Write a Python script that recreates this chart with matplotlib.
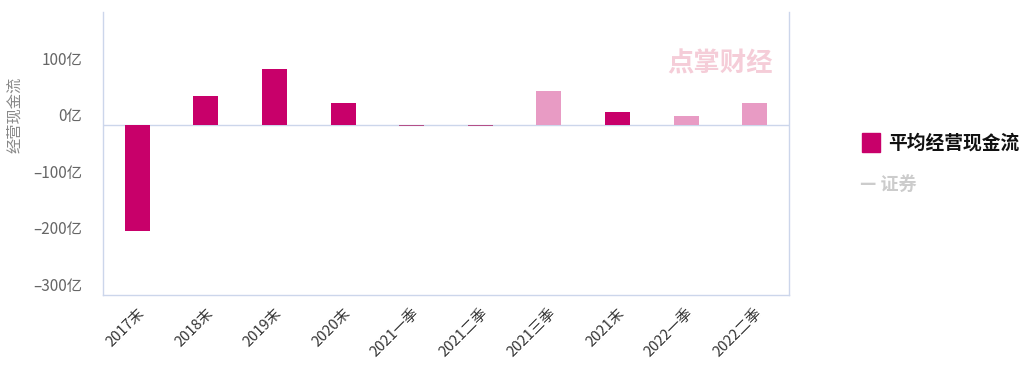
import matplotlib.pyplot as plt
import matplotlib.ticker as mticker

plt.rcParams['font.family'] = ['Noto Sans CJK SC', 'DejaVu Sans']
plt.rcParams['axes.unicode_minus'] = False

categories = ['2017末', '2018末', '2019末', '2020末', '2021一季', '2021二季',
              '2021三季', '2021末', '2022一季', '2022二季']
values = [-187, 51, 100, 39, -1, -1, 60, 23, 16, 39]
is_year_end = [True, True, True, True, False, False, False, True, False, False]

dark = '#C8006A'
light = '#E89BC4'
colors = [dark if y else light for y in is_year_end]
colors[4] = '#B45088'
colors[5] = '#B45088'

fig = plt.figure(figsize=(10.24, 3.67), dpi=100)
ax = fig.add_axes([103 / 1024, 1 - 295 / 367, (789 - 103) / 1024, (295 - 12) / 367])

x = list(range(len(categories)))
ax.bar(x, values, width=0.365, color=colors, zorder=3)
ax.axhline(0, color='#ccd6eb', lw=1, zorder=2)

ax.set_xlim(-0.5, len(categories) - 0.5)
ax.set_ylim(-300, 200)
ax.set_yticks([-300, -200, -100, 0, 100])
ax.yaxis.set_major_formatter(
    mticker.FuncFormatter(lambda v, p: f'{int(v)}亿'.replace('-', '–')))
for lbl in ax.get_yticklabels():
    lbl.set_va('bottom')
ax.tick_params(axis='y', length=0, labelsize=11, labelcolor='#666666', pad=15)

ax.set_xticks(x)
ax.set_xticklabels(categories, rotation=45, ha='right', rotation_mode='anchor')
ax.tick_params(axis='x', length=0, labelsize=10.5, labelcolor='#333333', pad=8)

for side in ['left', 'bottom', 'right']:
    ax.spines[side].set_color('#ccd6eb')
    ax.spines[side].set_linewidth(1)
ax.spines['top'].set_visible(False)

fig.text(15 / 1024, 1 - 115 / 367, '经营现金流', color='#888888', fontsize=11,
         rotation=90, ha='center', va='center')

# watermark
fig.text(720 / 1024, 1 - 64 / 367, '点掌财经', color='#f5cdd8', fontsize=19,
         fontweight='bold', ha='center', va='center')

# legend
fig.patches.append(plt.Rectangle((862 / 1024, 1 - 152 / 367), 18 / 1024, 19 / 367,
                                 color=dark, transform=fig.transFigure, figure=fig))
fig.text(888 / 1024, 1 - 143 / 367, '平均经营现金流', fontsize=13.5, fontweight='bold',
         color='#111111', va='center')
fig.text(860 / 1024, 1 - 184 / 367, '— 证券', fontsize=13, fontweight='bold',
         color='#cccccc', va='center')

fig.savefig('out.png', dpi=100)
